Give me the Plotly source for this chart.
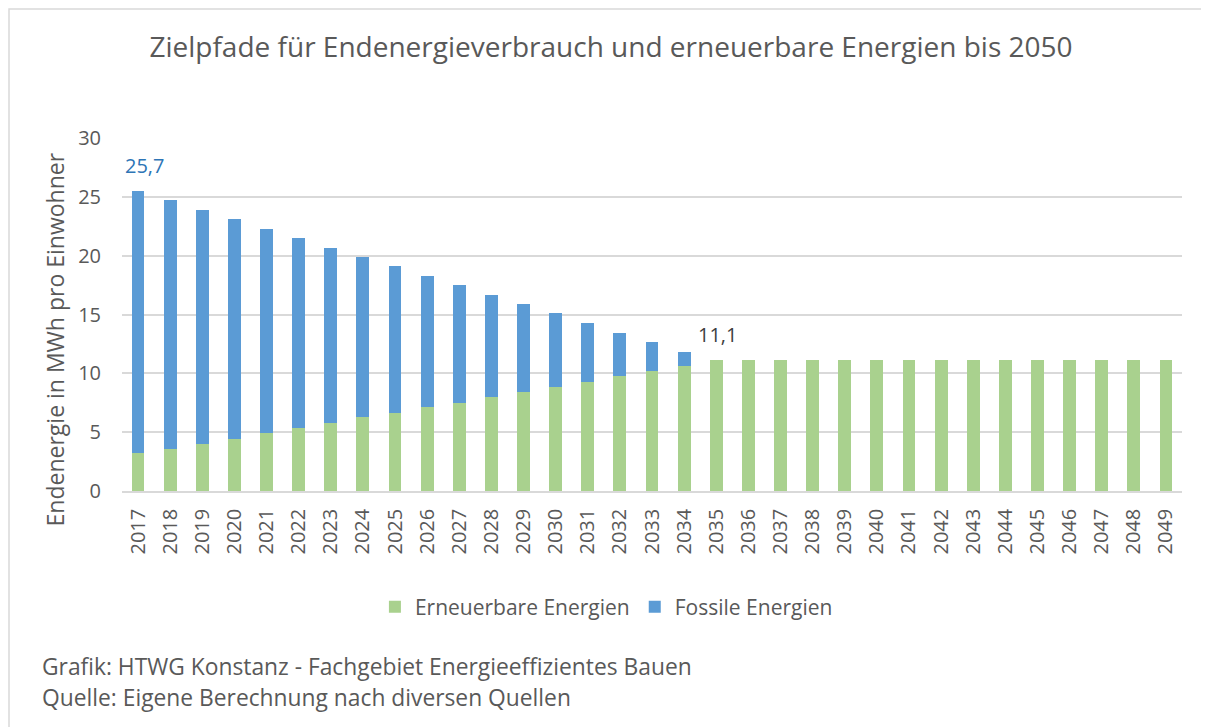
import plotly.graph_objects as go

years = [str(y) for y in range(2017, 2050)]
erneuerbar = [3.2, 3.6, 4.0, 4.45, 4.9, 5.35, 5.8, 6.25, 6.65, 7.1, 7.5, 7.95, 8.4, 8.85,
              9.3, 9.75, 10.2, 10.65] + [11.1] * 15
fossil = [22.3, 21.1, 19.9, 18.65, 17.4, 16.15, 14.85, 13.65, 12.45, 11.2, 10.0, 8.7, 7.5,
          6.25, 4.95, 3.7, 2.5, 1.2] + [0.0] * 15
label_years = ["2017", "2035"]
label_texts = ["25,7", "11,1"]

FONT = "Open Sans"
GRAY = "#595959"

fig = go.Figure()
fig.add_trace(go.Bar(x=years, y=erneuerbar, name="Erneuerbare Energien",
                     marker=dict(color="#A9D18E", line=dict(width=0))))
fig.add_trace(go.Bar(x=years, y=fossil, name="Fossile Energien",
                     marker=dict(color="#5B9BD5", line=dict(width=0))))

totals = {y: e + f for y, e, f in zip(years, erneuerbar, fossil)}
label_colors = ["#2E75B6", "#404040"]
label_xshift = [6, 1]
for yr, txt, col, xs in zip(label_years, label_texts, label_colors, label_xshift):
    fig.add_annotation(x=years.index(yr), y=totals[yr], text=txt, showarrow=False,
                       yanchor="bottom", yshift=10, xshift=xs,
                       font=dict(family=FONT, size=20, color=col))

fig.add_annotation(xref="paper", yref="paper", x=-0.0774, y=-0.496, xanchor="left",
                   yanchor="middle", showarrow=False, align="left",
                   text="Grafik: HTWG Konstanz - Fachgebiet Energieeffizientes Bauen",
                   font=dict(family=FONT, size=22.8, color=GRAY))
fig.add_annotation(xref="paper", yref="paper", x=-0.0774, y=-0.586, xanchor="left",
                   yanchor="middle", showarrow=False, align="left",
                   text="Quelle: Eigene Berechnung nach diversen Quellen",
                   font=dict(family=FONT, size=22.8, color=GRAY))
fig.add_annotation(xref="paper", yref="paper", x=-0.063, y=0.43, xanchor="center",
                   yanchor="middle", showarrow=False, textangle=-90,
                   text="Endenergie in MWh pro Einwohner",
                   font=dict(family=FONT, size=23, color=GRAY))

fig.add_shape(type="rect", xref="paper", yref="paper", x0=-0.1066, x1=1.5, y0=-1.5, y1=1.3654,
              line=dict(color="#D9D9D9", width=1.5), fillcolor="rgba(0,0,0,0)", layer="below")

fig.update_layout(
    width=1209, height=727,
    margin=dict(l=114, r=35, t=130, b=244),
    paper_bgcolor="white", plot_bgcolor="white",
    barmode="stack", bargap=0.6,
    title=dict(text="Zielpfade für Endenergieverbrauch und erneuerbare Energien bis 2050",
               x=(611 - 8) / 1209, xanchor="center", y=1 - 39 / 727, yanchor="middle",
               font=dict(family=FONT, size=28, color=GRAY)),
    font=dict(family=FONT, color=GRAY),
    legend=dict(orientation="h", x=0.457, xanchor="center", y=-0.329, yanchor="middle",
                font=dict(family=FONT, size=21, color=GRAY), traceorder="normal"),
    xaxis=dict(type="category", range=[-0.5, len(years) - 0.5], tickangle=-90,
               showline=True, linecolor="#D9D9D9", linewidth=1.5, ticks="",
               ticklabelstandoff=8,
               tickfont=dict(family=FONT, size=20, color=GRAY), showgrid=False),
    yaxis=dict(range=[0, 30], dtick=5, showgrid=True, gridcolor="#D9D9D9", gridwidth=1.5,
               zeroline=False, ticks="", ticklabelstandoff=20,
               tickfont=dict(family=FONT, size=20, color=GRAY)),
    showlegend=True,
)

fig.write_html("out.html")
